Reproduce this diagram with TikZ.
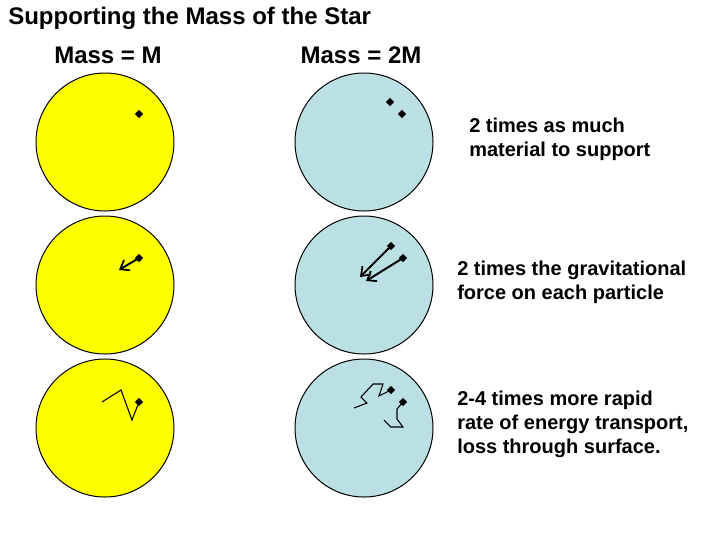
\documentclass[tikz,border=0pt]{standalone}
\usepackage{fontspec}
\setmainfont{Liberation Sans}
\usetikzlibrary{shapes.geometric,arrows.meta}
\definecolor{staryellow}{RGB}{255,255,0}
\definecolor{starblue}{RGB}{187,224,227}
\tikzset{
  star/.style={draw=black, line width=0.75pt, circle, minimum size=138*0.75pt, inner sep=0pt},
  particle/.style={diamond, fill=black, inner sep=0pt, minimum size=6.5pt},
  force/.style={line width=1.5pt, -{Straight Barb[length=6pt,width=9pt,line width=1.3pt]}, shorten <=1pt},
  walk/.style={line width=0.8pt, line join=miter},
  caption/.style={font=\bfseries\fontsize{15}{18}\selectfont, anchor=west, align=left, inner sep=0pt},
  heading/.style={font=\bfseries\fontsize{18}{20}\selectfont, inner sep=0pt}
}
\begin{document}
\begin{tikzpicture}[x=0.75pt,y=-0.75pt]
\useasboundingbox (0,0) rectangle (720,540);
% title and headings
\node[heading, anchor=west] (title) at (8,18) {Supporting the Mass of the Star};
\node[heading] (hm) at (108,55) {Mass = M};
\node[heading] (h2m) at (361,55) {Mass = 2M};
% stars
\node[star, fill=staryellow] (s1) at (105,142) {};
\node[star, fill=staryellow] (s2) at (105,285) {};
\node[star, fill=staryellow] (s3) at (105,428) {};
\node[star, fill=starblue] (b1) at (364,142) {};
\node[star, fill=starblue] (b2) at (364,285) {};
\node[star, fill=starblue] (b3) at (364,428) {};
% row 1 particles
\node[particle] (p1) at (139,114) {};
\node[particle] (q1a) at (390,102) {};
\node[particle] (q1b) at (402,114) {};
% row 2 particles and forces
\node[particle] (p2) at (139,258) {};
\node[particle] (q2a) at (391,246) {};
\node[particle] (q2b) at (403,258) {};
\coordinate (f2) at (119,270);
\coordinate (g2a) at (360,277);
\coordinate (g2b) at (366,281);
\draw[force] (p2.center) -- (f2);
\draw[force] (q2a.center) -- (g2a);
\draw[force] (q2b.center) -- (g2b);
% row 3 particles and random walks
\node[particle] (p3) at (139,402) {};
\node[particle] (q3a) at (391,390) {};
\node[particle] (q3b) at (403,402) {};
\coordinate (w1) at (132,420);
\coordinate (w2) at (121,390);
\coordinate (w3) at (102,402);
\draw[walk] (p3.center) -- (w1) -- (w2) -- (w3);
\coordinate (u1) at (379,396);
\coordinate (u2) at (383,384);
\coordinate (u3) at (373,384);
\coordinate (u4) at (361,397);
\coordinate (u5) at (367,403);
\coordinate (u6) at (354,408);
\draw[walk] (q3a.center) -- (u1) -- (u2) -- (u3) -- (u4) -- (u5) -- (u6);
\coordinate (v1) at (397,409);
\coordinate (v2) at (397,419);
\coordinate (v3) at (403,427);
\coordinate (v4) at (391,427);
\coordinate (v5) at (384,420);
\draw[walk] (q3b.center) -- (v1) -- (v2) -- (v3) -- (v4) -- (v5);
% captions
\node[caption] (c1) at (469,139) {2 times as much\\material to support};
\node[caption] (c2) at (457,282) {2 times the gravitational\\force on each particle};
\node[caption] (c3) at (457,424) {2-4 times more rapid\\rate of energy transport,\\loss through surface.};
\end{tikzpicture}
\end{document}
